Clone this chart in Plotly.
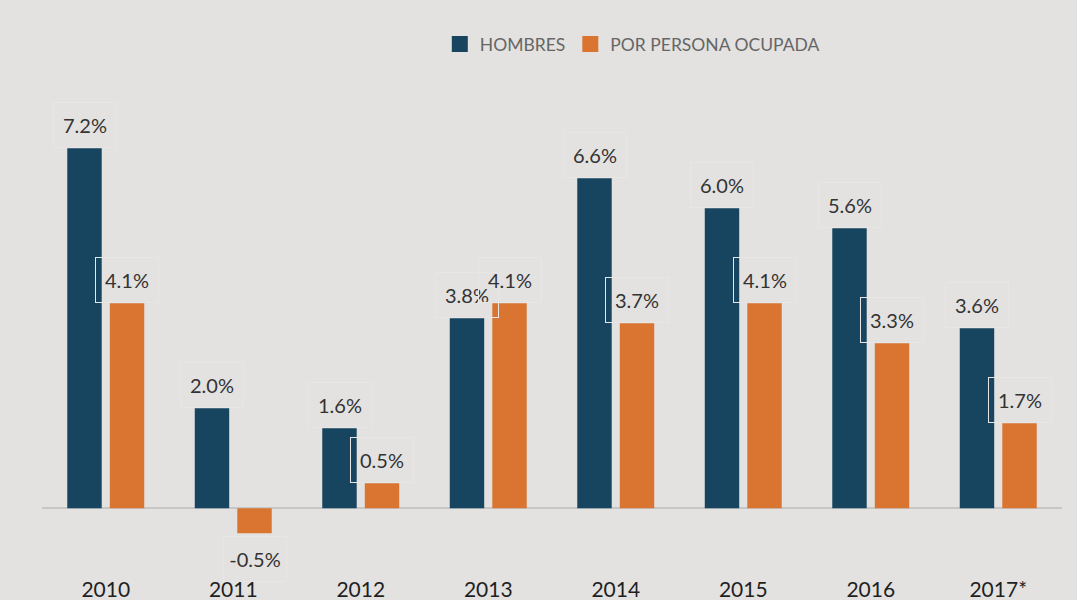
import plotly.graph_objects as go

years = ["2010", "2011", "2012", "2013", "2014", "2015", "2016", "2017*"]
hombres = [7.2, 2.0, 1.6, 3.8, 6.6, 6.0, 5.6, 3.6]
por_persona = [4.1, -0.5, 0.5, 4.1, 3.7, 4.1, 3.3, 1.7]

NAVY = "#17445f"
ORANGE = "#d97531"
BG = "#e3e2e1"
FONT = "Lato"

fig = go.Figure()
fig.add_trace(go.Bar(x=years, y=hombres, name="HOMBRES", marker_color=NAVY,
                     marker_line_width=0, showlegend=False))
fig.add_trace(go.Bar(x=years, y=por_persona, name="POR PERSONA OCUPADA",
                     marker_color=ORANGE, marker_line_width=0, showlegend=False))
# legend entries (square markers)
for name, col in [("HOMBRES", NAVY), ("POR PERSONA OCUPADA", ORANGE)]:
    fig.add_trace(go.Scatter(x=[None], y=[None], mode="markers", name=name,
                             marker=dict(symbol="square", size=16, color=col)))

shift = 21.25
for series, sx in [(hombres, -shift), (por_persona, shift)]:
    for i, v in enumerate(series):
        fig.add_annotation(x=i, y=v, xshift=sx, yshift=0 if v >= 0 else -3,
                           text=f"{v:.1f}%", showarrow=False,
                           yanchor="bottom" if v >= 0 else "top",
                           width=62, height=44, borderpad=0, borderwidth=1,
                           bordercolor="#e7e6e5",
                           font=dict(family=FONT, size=20, color="#333333"))

fig.update_layout(
    width=1077, height=600,
    paper_bgcolor=BG, plot_bgcolor=BG,
    margin=dict(l=42, r=15, t=75, b=35),
    barmode="group", bargap=0.333, bargroupgap=0.19,
    font=dict(family=FONT),
    legend=dict(orientation="h", x=0.39, xanchor="left", y=1.063, yanchor="middle",
                font=dict(family=FONT, size=17.5, color="#666666"),
                bgcolor="rgba(0,0,0,0)"),
    xaxis=dict(type="category", categoryorder="array", categoryarray=years,
               range=[-0.5, len(years) - 0.5], automargin=False,
               showgrid=False, showline=False, ticks="", ticklabelstandoff=10,
               tickfont=dict(family=FONT, size=21, color="#1f1f1f")),
    yaxis=dict(range=[-1.134, 8.666], showgrid=False, showticklabels=False,
               zeroline=True, zerolinecolor="#c6c6c6", zerolinewidth=2),
)

fig.write_html("out.html", config={"displayModeBar": False},
               post_script="document.body.style.margin='0';"
                           "document.body.style.background='#e3e2e1';"
                           "document.body.style.overflow='hidden';")
